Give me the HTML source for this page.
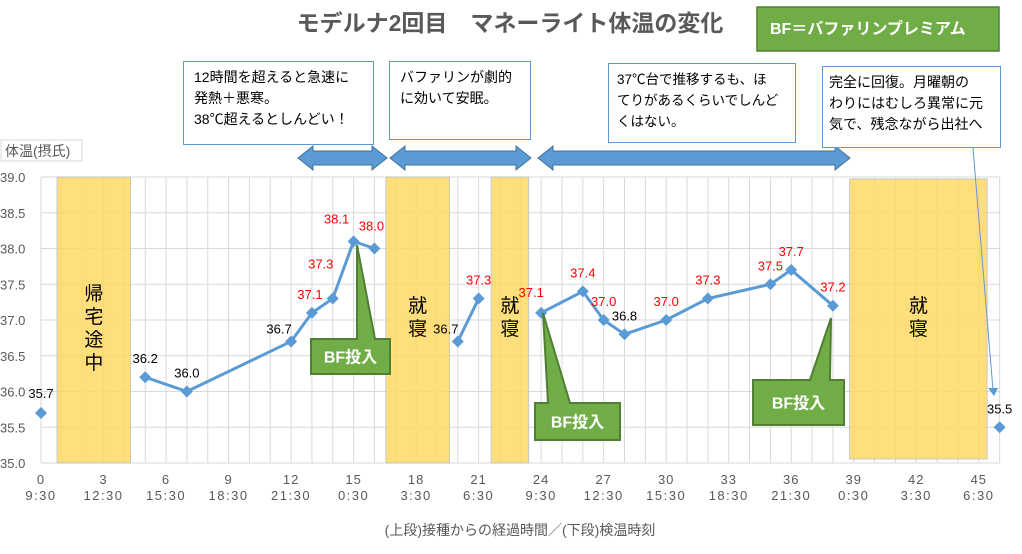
<!DOCTYPE html>
<html><head><meta charset="utf-8"><style>
body{margin:0;background:#fff;font-family:"Liberation Sans","Noto Sans CJK JP",sans-serif}
#wrap{position:relative;width:1022px;height:554px;overflow:hidden;background:#fff}
.box{position:absolute;background:#fff;border:1px solid #5b9bd5;font-size:14px;line-height:21px;padding:5px 10px;box-sizing:border-box;color:#000;white-space:nowrap}
</style></head><body>
<div id="wrap">
<svg id="chart" width="1022" height="554" style="position:absolute;left:0;top:0"></svg>
<div class="box" style="left:183px;top:61px;width:191px;height:84px">12時間を超えると急速に<br>発熱＋悪寒。<br>38℃超えるとしんどい！</div>
<div class="box" style="left:389px;top:61px;width:142px;height:79px">バファリンが劇的<br>に効いて安眠。</div>
<div class="box" style="left:608px;top:63px;width:188px;height:80px;font-size:13.5px;padding:5px 8px">37℃台で推移するも、ほ<br>てりがあるくらいでしんど<br>くはない。</div>
<div class="box" style="left:822px;top:66px;width:179px;height:82px;padding:5px 6px">完全に回復。月曜朝の<br>わりにはむしろ異常に元<br>気で、残念ながら出社へ</div>
</div>
<script>
const hours=[0,5,7,12,13,14,15,16,20,21,24,26,27,28,30,32,35,36,38,46];
const temps=[35.7,36.2,36.0,36.7,37.1,37.3,38.1,38.0,36.7,37.3,37.1,37.4,37.0,36.8,37.0,37.3,37.5,37.7,37.2,35.5];
const segments=[[0],[1,2,3,4,5,6,7],[8,9],[10,11,12,13,14,15,16,17,18],[19]];
const redLabels=[4,5,6,7,9,10,11,12,14,15,16,17,18];
const xTicks=[0,3,6,9,12,15,18,21,24,27,30,33,36,39,42,45];
const timeLabels=["9:30","12:30","15:30","18:30","21:30","0:30","3:30","6:30","9:30","12:30","15:30","18:30","21:30","0:30","3:30","6:30"];
const yTicks=[35.0,35.5,36.0,36.5,37.0,37.5,38.0,38.5,39.0];
const bands=[[0.77,4.3,"帰宅途中"],[16.55,19.6,"就寝"],[21.6,23.4,"就寝"],[38.8,45.4,"就寝"]];
const X=h=>41+h*20.84, Y=t=>463-(t-35)*71.5;
const svg=document.getElementById('chart');const NS="http://www.w3.org/2000/svg";
function mk(tag,at,txt){const e=document.createElementNS(NS,tag);for(const k in at)e.setAttribute(k,at[k]);if(txt!=null)e.textContent=txt;svg.appendChild(e);return e;}
for(let h=0;h<=46;h++){const g=mk('line',{x1:X(h),x2:X(h),y1:177,y2:463,stroke:'#d9d9d9'});}
yTicks.forEach(t=>{const g=mk('line',{x1:41,x2:1000,y1:Y(t),y2:Y(t),stroke:'#d9d9d9'});
const l=mk('text',{x:0,y:Y(t)+5,'font-size':13,fill:'#595959'},t.toFixed(1));});
xTicks.forEach((h,i)=>{const a=mk('text',{x:X(h),y:484,'font-size':13,fill:'#595959','text-anchor':'middle','letter-spacing':'1'},h);
const b=mk('text',{x:X(h),y:500,'font-size':13,fill:'#595959','text-anchor':'middle','letter-spacing':'1.5'},timeLabels[i]);});
bands.forEach(b=>{const r=mk('rect',{x:X(b[0]),y:b[0]>38?179:177,width:X(b[1])-X(b[0]),height:b[0]>38?280:286,fill:'#ffd966',opacity:0.85,stroke:'#bfbfbf'});
const cx=(X(b[0])+X(b[1]))/2;[...b[2]].forEach((c,i)=>{const t=mk('text',{x:cx,y:(b[2].length>2?300:312)+i*23,'font-size':19,'text-anchor':'middle',fill:'#000'},c);});});
segments.forEach(s=>{if(s.length>1){const p=mk('polyline',{points:s.map(i=>X(hours[i])+','+Y(temps[i])).join(' '),fill:'none',stroke:'#5b9bd5','stroke-width':3});}});
hours.forEach((h,i)=>{const x=X(h),y=Y(temps[i]);const m=mk('polygon',{points:`${x},${y-6} ${x+6},${y} ${x},${y+6} ${x-6},${y}`,fill:'#5b9bd5'});
const red=redLabels.includes(i);let dx=0,dy=-14;if(i==0){dy=-15}if(i==3||i==8){dx=-12;dy=-8}if(i==4){dx=-2;dy=-14}if(i==5){dx=-12;dy=-30}if(i==6){dx=-17;dy=-18}if(i==7){dx=-3;dy=-18}if(i==10){dx=-10;dy=-16}
const t=mk('text',{x:x+dx,y:y+dy,'font-size':13,'text-anchor':'middle',fill:red?'#ff0000':'#000'},temps[i].toFixed(1));});
let t=mk('text',{x:510,y:31,'font-size':23,'font-weight':'bold',fill:'#595959','text-anchor':'middle'},'モデルナ2回目　マネーライト体温の変化');
let r=mk('rect',{x:757,y:7,width:242,height:44,fill:'#70ad47',stroke:'#507e32','stroke-width':1.5});
t=mk('text',{x:770,y:34,'font-size':16,'font-weight':'bold',fill:'#fff'},'BF＝バファリンプレミアム');
r=mk('rect',{x:1,y:140,width:81,height:21,fill:'#fff',stroke:'#d9d9d9'});
t=mk('text',{x:5,y:156,'font-size':14,fill:'#595959'},'体温(摂氏)');
t=mk('text',{x:520,y:535,'font-size':14,fill:'#595959','text-anchor':'middle'},'(上段)接種からの経過時間／(下段)検温時刻');
[[298,387],[390,531],[538,850]].forEach(a=>{const p=mk('polygon',{points:`${a[0]},158 ${a[0]+15},146 ${a[0]+15},151 ${a[1]-15},151 ${a[1]-15},146 ${a[1]},158 ${a[1]-15},170 ${a[1]-15},165 ${a[0]+15},165 ${a[0]+15},170`,fill:'#5b9bd5',stroke:'#41719c'});});
[[311,339,79,35,'357,245','357,339','375,339'],[535,403,85,37,'543,313','548,403','570,403'],[753,380,91,45,'831,318','810,380','830,380']].forEach(c=>{
const g=mk('polygon',{points:`${c[0]},${c[1]} ${c[5]} ${c[4]} ${c[6]} ${c[0]+c[2]},${c[1]} ${c[0]+c[2]},${c[1]+c[3]} ${c[0]},${c[1]+c[3]}`,fill:'#70ad47',stroke:'#507e32','stroke-width':2});
const tx=mk('text',{x:c[0]+c[2]/2,y:c[1]+c[3]/2+6,'font-size':16,'font-weight':'bold',fill:'#fff','text-anchor':'middle'},'BF投入');});
const ln=mk('line',{x1:973,y1:148,x2:993,y2:390,stroke:'#5b9bd5'});
const ah=mk('polygon',{points:'988,388 998,388 994,396',fill:'#5b9bd5'});
</script>
</body></html>
